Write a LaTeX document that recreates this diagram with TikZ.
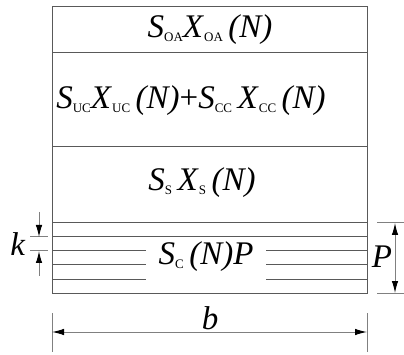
\documentclass[tikz,border=0pt]{standalone}
\usepackage{fontspec}
\setmainfont{Liberation Serif}
\usetikzlibrary{arrows.meta}
\newcommand{\sbs}[1]{\raisebox{-0.1em}{\fontsize{13}{13}\selectfont #1}}
\newcommand{\iv}[1]{\textit{#1}}
\begin{document}
\begin{tikzpicture}[x=1pt,y=-1pt,
  ln/.style={draw=black!65,line width=1pt},
  dim/.style={draw=black!50,line width=1pt},
  tip/.tip={Latex[length=12pt,width=6.5pt,black]},
  arr/.style={dim,-tip},
  darr/.style={dim,tip-tip},
  lbl/.style={inner sep=0pt,font=\fontsize{33}{33}\selectfont}]
\useasboundingbox (0,0) rectangle (404,355);
% box and layer lines
\draw[ln] (52,7) rectangle (367,293);
\draw[ln] (52,53) -- (367,53);
\draw[ln] (52,147) -- (367,147);
\draw[ln] (52,223) -- (367,223);
\draw[ln] (52,237) -- (367,237);
\foreach \y in {251,265,279}{
  \draw[ln] (52,\y) -- (146,\y);
  \draw[ln] (266,\y) -- (367,\y);
}
% texts
\node[lbl] (t1) at (210,30) {\iv{S}\sbs{OA}\iv{X}\sbs{OA}\,\iv{(N)}};
\node[lbl] (t2) at (191,101) {\iv{S}\sbs{UC}\iv{X}\sbs{UC}\,\iv{(N)}+\iv{S}\sbs{CC}\,\iv{X}\sbs{CC}\,\iv{(N)}};
\node[lbl] (t3) at (202,183) {\iv{S}\sbs{S}\,\iv{X}\sbs{S}\,\iv{(N)}};
\node[lbl] (t4) at (206,257) {\iv{S}\sbs{C}\,\iv{(N)P}};
% k dimension
\coordinate (k1a) at (30,237); \coordinate (k1b) at (48,237);
\coordinate (k2a) at (30,251); \coordinate (k2b) at (48,251);
\draw[dim] (k1a) -- (k1b);
\draw[dim] (k2a) -- (k2b);
\coordinate (ks1) at (39,212); \coordinate (ke1) at (39,237);
\coordinate (ks2) at (39,276); \coordinate (ke2) at (39,251);
\draw[arr] (ks1) -- (ke1);
\draw[arr] (ks2) -- (ke2);
\node[lbl] (k) at (18,244) {\iv{k}};
% P dimension
\coordinate (p1a) at (377,223); \coordinate (p1b) at (404,223);
\coordinate (p2a) at (377,293); \coordinate (p2b) at (404,293);
\draw[dim] (p1a) -- (p1b);
\draw[dim] (p2a) -- (p2b);
\coordinate (pt) at (395,223); \coordinate (pb) at (395,293);
\draw[darr] (pt) -- (pb);
\node[lbl] (P) at (382,257) {\iv{P}};
% b dimension
\coordinate (b1a) at (52,313); \coordinate (b1b) at (52,352);
\coordinate (b2a) at (367,313); \coordinate (b2b) at (367,352);
\draw[dim] (b1a) -- (b1b);
\draw[dim] (b2a) -- (b2b);
\coordinate (bl) at (52,332); \coordinate (br) at (367,332);
\draw[darr] (bl) -- (br);
\node[lbl] (b) at (210,318) {\iv{b}};
\end{tikzpicture}
\end{document}
